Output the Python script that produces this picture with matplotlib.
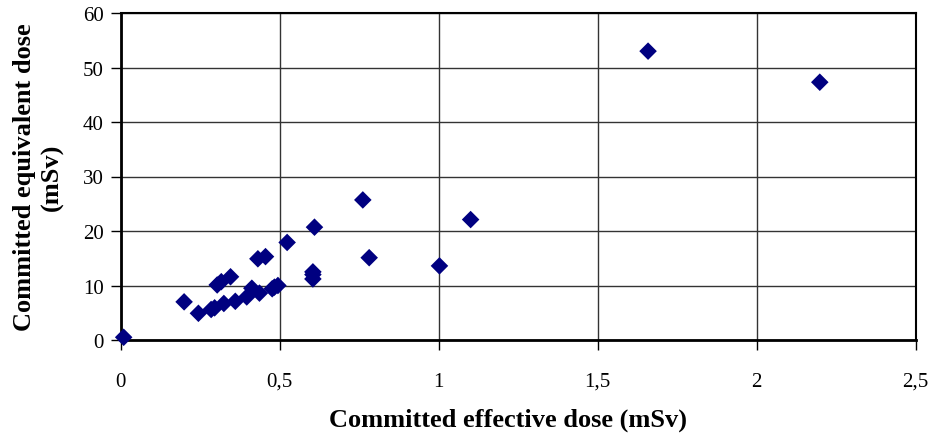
import matplotlib
matplotlib.use("Agg")
import matplotlib.pyplot as plt
from matplotlib.ticker import FuncFormatter, MultipleLocator

effective_dose = [0.01, 0.20, 0.245, 0.285, 0.296, 0.325, 0.361, 0.397, 0.413, 0.437,
                  0.477, 0.484, 0.495, 0.304, 0.317, 0.346, 0.432, 0.456, 0.524, 0.610,
                  0.605, 0.605, 0.605, 0.762, 0.782, 1.003, 1.101, 1.659, 2.199]
equivalent_dose = [0.5, 7.0, 4.9, 5.6, 5.9, 6.7, 7.1, 7.9, 9.5, 8.6,
                   9.4, 9.7, 10.0, 10.1, 10.7, 11.6, 14.9, 15.3, 17.9, 20.7,
                   12.5, 12.0, 11.2, 25.7, 15.1, 13.6, 22.1, 53.0, 47.3]

x_label = "Committed effective dose (mSv)"
y_label = "Committed equivalent dose\n(mSv)"

plt.rcParams['font.family'] = ['Liberation Serif', 'DejaVu Serif']

fig = plt.figure(figsize=(9.33, 4.39), dpi=100)
ax = fig.add_axes([120.5/933, 1-341/439, (915.5-120.5)/933, (341-14)/439])

ax.scatter(effective_dose, equivalent_dose, marker='D', s=80, color='#000080',
           edgecolors='none', zorder=3, clip_on=False)

ax.set_xlim(0, 2.5)
ax.set_ylim(0, 60)
ax.xaxis.set_major_locator(MultipleLocator(0.5))
ax.yaxis.set_major_locator(MultipleLocator(10))
ax.xaxis.set_major_formatter(FuncFormatter(lambda v, p: ("%g" % v).replace('.', ',')))
ax.grid(True, color='#333333', linewidth=1.0)
ax.set_axisbelow(True)
for s in ['top', 'right']:
    ax.spines[s].set_color('black')
    ax.spines[s].set_linewidth(1.5)
for s in ['left', 'bottom']:
    ax.spines[s].set_color('black')
    ax.spines[s].set_linewidth(2.0)
ax.tick_params(axis='both', direction='out', length=7, width=1, labelsize=15, colors='black')
ax.tick_params(axis='x', pad=16)
ax.tick_params(axis='y', pad=5)

ax.set_xlabel(x_label, fontsize=19, fontweight='bold')
ax.xaxis.label.set_va('center')
ax.xaxis.set_label_coords(0.487, -0.242)
ax.set_ylabel(y_label, fontsize=19, fontweight='bold', labelpad=14)

fig.savefig("out.png", dpi=100)
